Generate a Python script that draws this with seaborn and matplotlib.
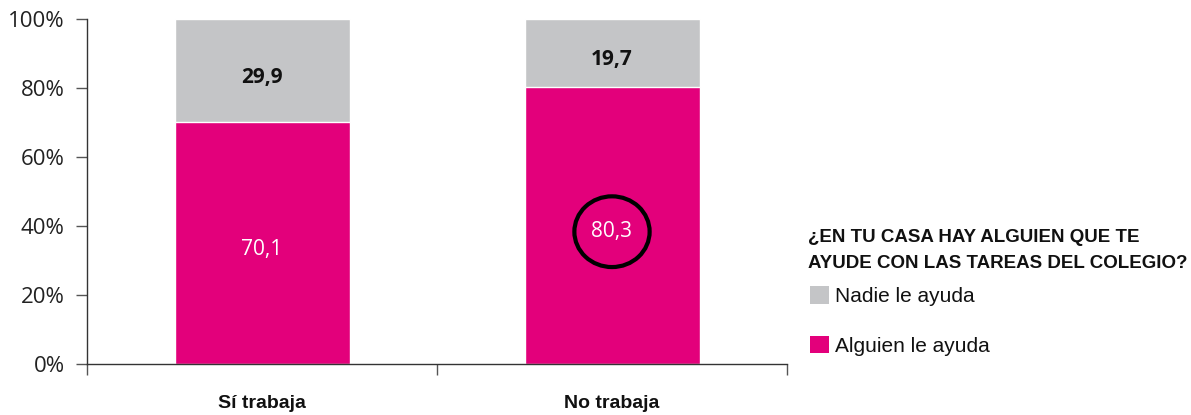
import matplotlib
matplotlib.use("Agg")
import matplotlib.pyplot as plt
import seaborn as sns
import pandas as pd
from matplotlib.patches import Patch, Ellipse
from matplotlib.ticker import FixedLocator

categories = ["Sí trabaja", "No trabaja"]
alguien = [70.1, 80.3]
nadie = [29.9, 19.7]
yticks = [0, 20, 40, 60, 80, 100]
legend_title = ["¿EN TU CASA HAY ALGUIEN QUE TE", "AYUDE CON LAS TAREAS DEL COLEGIO?"]
series_names = ["Nadie le ayuda", "Alguien le ayuda"]

pink = "#E3007B"
gray = "#C4C5C7"

sns.set_theme(style="white")
plt.rcParams['font.family'] = ['Liberation Sans', 'DejaVu Sans']

df = pd.DataFrame({"cat": categories, "alguien": alguien, "nadie": nadie})
df["total"] = df["alguien"] + df["nadie"]

fig = plt.figure(figsize=(11.91, 4.15), dpi=100)
ax = fig.add_axes([87/1191, 51/415, 700/1191, 345/415])

sns.barplot(data=df, x="cat", y="total", color=gray, width=0.5, ax=ax, saturation=1)
sns.barplot(data=df, x="cat", y="alguien", color=pink, width=0.5, ax=ax, saturation=1)

ax.set_xlim(-0.5, 1.5)
ax.set_ylim(0, 100)
ax.set_xlabel("")
ax.set_ylabel("")
ax.set_yticks(yticks)
ax.set_yticklabels([f"{v}%" for v in yticks], fontsize=16, family=['Open Sans', 'DejaVu Sans'], color="#222222")
ax.tick_params(axis="y", direction="out", length=8, width=1, color="#555555", pad=8, left=True)
ax.set_xticks(range(len(categories)))
ax.set_xticklabels(categories, fontsize=14, fontweight="bold", color="#111111")
ax.tick_params(axis="x", which="major", length=0, pad=22)
ax.xaxis.set_minor_locator(FixedLocator([-0.5, 0.5, 1.5]))
ax.tick_params(axis="x", which="minor", direction="out", length=8, width=1, color="#555555", bottom=True)

for s in ["top", "right"]:
    ax.spines[s].set_visible(False)
for s in ["left", "bottom"]:
    ax.spines[s].set_color("#333333")
    ax.spines[s].set_linewidth(1)

for i, (a, n) in enumerate(zip(alguien, nadie)):
    ax.text(i, a / 2 - 1.8, f"{a:.1f}".replace(".", ","), ha="center", va="center",
            color="white", fontsize=15, family=['Open Sans', 'DejaVu Sans'])
    ax.text(i, a + n / 2 - 2.0, f"{n:.1f}".replace(".", ","), ha="center", va="center",
            color="#111111", fontsize=15, fontweight="bold", family=['Open Sans', 'DejaVu Sans'])

ax.add_patch(Ellipse((1, alguien[1] / 2 - 1.8), 0.215, 20.5, fill=False, edgecolor="black", linewidth=3, zorder=5))

# legend title as two text lines
for k, (line, ypx) in enumerate(zip(legend_title, [237, 263])):
    fig.text(808/1191, 1 - ypx/415, line, ha="left", va="center", fontsize=13.5,
             fontweight="bold", color="#111111")

handles = [Patch(facecolor=gray, edgecolor="none"), Patch(facecolor=pink, edgecolor="none")]
leg = fig.legend(handles, series_names, loc="upper left", bbox_to_anchor=(802/1191, 1 - 278/415),
                 frameon=False, fontsize=15, handlelength=0.9, handleheight=0.9,
                 handletextpad=0.3, labelspacing=1.42, borderaxespad=0.0)
for t in leg.get_texts():
    t.set_color("#111111")

fig.savefig("out.png", dpi=100)
